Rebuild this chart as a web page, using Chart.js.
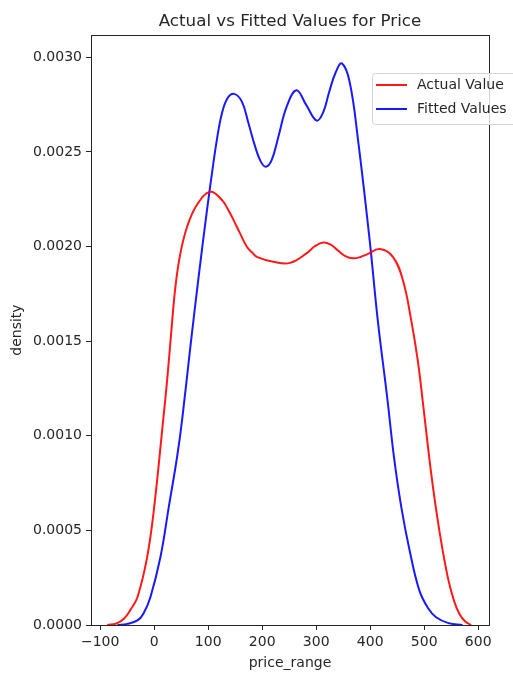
<!DOCTYPE html>
<html>
<head>
<meta charset="utf-8">
<script src="https://cdn.jsdelivr.net/npm/chart.js@4.4.1/dist/chart.umd.min.js"></script>
<style>
  html, body { margin: 0; padding: 0; background: #fff; }
  #wrap { width: 513px; height: 676px; }
</style>
</head>
<body>
<div id="wrap"><canvas id="kde" width="513" height="676"></canvas></div>
<script>
// valeurs (densité KDE)
const actualX = [-87, -70, -56, -44, -31, -13, 0, 16.6, 24, 31.4, 39.3, 48.5, 61, 79, 104, 125.5, 136, 147, 159,
  171.6, 181, 190, 220.7, 251.5, 282, 298, 313, 327, 340, 354, 368, 382, 395, 417.5, 442, 460.5, 476, 488,
  497, 513, 528, 543.6, 555, 565, 576, 587];
const actualY = [0, 0.000008, 0.000033, 0.00008, 0.000147, 0.000359, 0.000623, 0.001082, 0.001294, 0.001541,
  0.001787, 0.001964, 0.002105, 0.00222, 0.00229, 0.002246, 0.0022, 0.00214, 0.00207,
  0.001999, 0.00197, 0.001946, 0.00192, 0.001914, 0.001964, 0.002003, 0.002022, 0.00201, 0.00198, 0.00195,
  0.001938, 0.001945, 0.00196, 0.001987, 0.001946, 0.001823, 0.00161, 0.0014,
  0.00119, 0.0008, 0.0005, 0.000253, 0.00013, 0.000059, 0.000018, 0];

const fittedX = [-68, -50, -31, -20, -7, 11.6, 27, 42.4, 51.6, 67, 82.3, 97.8, 107, 116, 125.5, 135.8, 148, 162.4,
  174.6, 187, 197.4, 207, 217.7, 230, 245.4, 263.5, 282, 301, 313, 324, 336, 347.5, 362, 377.5, 399, 414, 432,
  444, 457.6, 473, 491, 507, 522, 545, 571];
const fittedY = [0, 0.000006, 0.000024, 0.00006, 0.000147, 0.000359, 0.000623, 0.000888, 0.001082, 0.00147,
  0.00184, 0.002193, 0.002387, 0.002563, 0.002705, 0.002784, 0.002807, 0.002766,
  0.002652, 0.002528, 0.002449, 0.002422, 0.002458, 0.002581, 0.00274, 0.002826, 0.002746, 0.002666,
  0.00271, 0.002817, 0.00292, 0.002968, 0.00287, 0.002563, 0.002034, 0.001611, 0.00119,
  0.000888, 0.000623, 0.000394, 0.000183, 0.00009, 0.000041, 0.00001, 0];

const seriesNames = ["Actual Value", "Fitted Values"];
const xTickStep = 100;
const yTickStep = 0.0005;

const FONT = "'DejaVu Sans', sans-serif";
const INK = "#262626";

function toPoints(xs, ys) {
  return xs.map((x, i) => ({ x: x, y: ys[i] }));
}

// cadre noir autour de la zone de tracé (façon matplotlib)
const framePlugin = {
  id: "frame",
  afterDatasetsDraw(chart) {
    const { ctx, chartArea: a } = chart;
    ctx.save();
    ctx.strokeStyle = INK;
    ctx.lineWidth = 1;
    ctx.strokeRect(Math.round(a.left) + 0.5, Math.round(a.top) + 0.5,
      Math.round(a.right - a.left), Math.round(a.bottom - a.top));
    ctx.restore();
  }
};

// légende dessinée à la main, en haut à droite, qui déborde du cadre
const legendPlugin = {
  id: "mplLegend",
  afterDraw(chart) {
    const ctx = chart.ctx;
    const bx = 372.5, by = 73.5, bw = 150, bh = 51, r = 3;
    ctx.save();
    ctx.beginPath();
    ctx.moveTo(bx + r, by);
    ctx.lineTo(bx + bw - r, by);
    ctx.arcTo(bx + bw, by, bx + bw, by + r, r);
    ctx.lineTo(bx + bw, by + bh - r);
    ctx.arcTo(bx + bw, by + bh, bx + bw - r, by + bh, r);
    ctx.lineTo(bx + r, by + bh);
    ctx.arcTo(bx, by + bh, bx, by + bh - r, r);
    ctx.lineTo(bx, by + r);
    ctx.arcTo(bx, by, bx + r, by, r);
    ctx.closePath();
    ctx.fillStyle = "rgba(255,255,255,0.8)";
    ctx.fill();
    ctx.strokeStyle = "#d4d4d4";
    ctx.lineWidth = 1;
    ctx.stroke();

    chart.data.datasets.forEach((ds, i) => {
      const y = 85 + i * 24;
      ctx.beginPath();
      ctx.moveTo(376, y);
      ctx.lineTo(407, y);
      ctx.strokeStyle = ds.borderColor;
      ctx.lineWidth = 2;
      ctx.stroke();
      ctx.fillStyle = INK;
      ctx.font = "14px " + FONT;
      ctx.textBaseline = "middle";
      ctx.textAlign = "left";
      ctx.fillText(ds.label, 417, y);
    });
    ctx.restore();
  }
};

const ctx = document.getElementById("kde").getContext("2d");
new Chart(ctx, {
  type: "line",
  data: {
    datasets: [
      {
        label: seriesNames[0],
        data: toPoints(actualX, actualY),
        borderColor: "rgba(255,0,0,0.9)",
        borderWidth: 2,
        pointRadius: 0,
        tension: 0.4,
        fill: false
      },
      {
        label: seriesNames[1],
        data: toPoints(fittedX, fittedY),
        borderColor: "rgba(0,0,255,0.9)",
        borderWidth: 2,
        pointRadius: 0,
        tension: 0.4,
        fill: false
      }
    ]
  },
  options: {
    responsive: false,
    animation: false,
    devicePixelRatio: 1,
    layout: { padding: { left: 0, right: 24, top: 0, bottom: 0 } },
    plugins: {
      legend: { display: false },
      tooltip: { enabled: false },
      title: {
        display: true,
        text: "Actual vs Fitted Values for Price",
        fullSize: false,
        color: INK,
        font: { family: FONT, size: 16.7, weight: "normal" },
        padding: { top: 12, bottom: 3 }
      }
    },
    scales: {
      x: {
        type: "linear",
        min: -117,
        max: 620,
        afterFit(scale) { scale.height = 51; },
        border: { display: true, color: INK },
        grid: { drawOnChartArea: false, drawTicks: true, tickLength: 5, tickColor: INK },
        ticks: {
          stepSize: xTickStep,
          includeBounds: false,
          autoSkip: false,
          maxRotation: 0,
          padding: 4,
          color: INK,
          font: { family: FONT, size: 14 },
          callback: v => (v < 0 ? "\u2212" + Math.abs(v) : String(v))
        },
        title: {
          display: true,
          text: "price_range",
          color: INK,
          font: { family: FONT, size: 14 },
          padding: { top: 0, bottom: 4.6 }
        }
      },
      y: {
        type: "linear",
        min: 0,
        max: 0.003118,
        afterFit(scale) { scale.width = 91; },
        border: { display: true, color: INK },
        grid: { drawOnChartArea: false, drawTicks: true, tickLength: 5, tickColor: INK },
        ticks: {
          stepSize: yTickStep,
          includeBounds: false,
          autoSkip: false,
          padding: 4,
          color: INK,
          font: { family: FONT, size: 14 },
          callback: v => Number(v).toFixed(4)
        },
        title: {
          display: true,
          text: "density",
          color: INK,
          font: { family: FONT, size: 14 },
          padding: { top: 8.6, bottom: 0 }
        }
      }
    }
  },
  plugins: [framePlugin, legendPlugin]
});
</script>
</body>
</html>
